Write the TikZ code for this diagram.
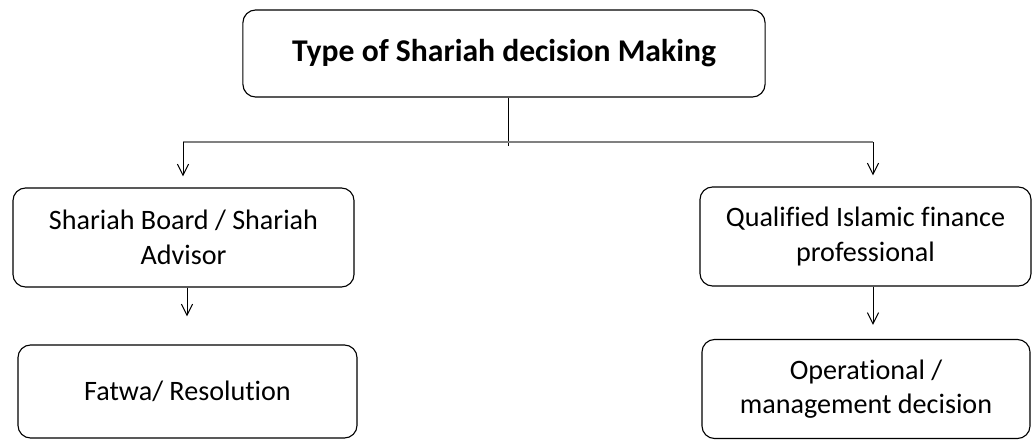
\documentclass[tikz,border=0pt]{standalone}
\usepackage{fontspec}
\setmainfont{Carlito}[Ligatures=NoCommon]
\usetikzlibrary{arrows.meta}

\begin{document}
\begin{tikzpicture}[
    x=0.025cm, y=-0.025cm,
    decision/.style = {draw, rectangle, rounded corners=9pt, line width=0.8pt,
                       align=center, inner sep=0pt,
                       font=\fontsize{20}{24.5}\selectfont},
    heading/.style = {decision, font=\fontsize{22.5}{27}\selectfont\bfseries},
    arrow/.style = {-{Straight Barb[length=8pt, width=8pt]}, line width=0.7pt},
    stem/.style = {line width=0.7pt},
    bar/.style = {line width=1.4pt, draw=black!50}
]
\useasboundingbox (0,0) rectangle (1032,440);

\node[heading, minimum width=13.05cm, minimum height=2.175cm] (type) at (504,53.5)
    {Type of Shariah decision Making};
\node[decision, minimum width=8.525cm, minimum height=2.475cm] (board) at (183.5,237.5)
    {Shariah Board / Shariah\\Advisor};
\node[decision, minimum width=8.475cm, minimum height=2.325cm] (fatwa) at (187.5,391.5)
    {Fatwa/ Resolution};
\node[decision, minimum width=8.275cm, minimum height=2.475cm] (prof) at (865.5,236.5)
    {Qualified Islamic finance\\professional};
\node[decision, minimum width=8.2cm, minimum height=2.475cm] (oper) at (866,389)
    {Operational /\\management decision};

\coordinate (split) at (508,142);
\coordinate (lft) at (183,142);
\coordinate (rgt) at (873,142);

\draw[stem] (split |- type.south) -- ([yshift=-3pt]split);
\draw[bar] (lft) -- (rgt);
\draw[arrow, shorten >=0.275cm] (lft) -- (lft |- board.north);
\draw[arrow, shorten >=0.275cm] (rgt) -- (rgt |- prof.north);
\draw[arrow, shorten >=0.7cm] (187,0 |- board.south) -- (187,0 |- fatwa.north);
\draw[arrow, shorten >=0.35cm] (873,0 |- prof.south) -- (873,0 |- oper.north);

\end{tikzpicture}
\end{document}
